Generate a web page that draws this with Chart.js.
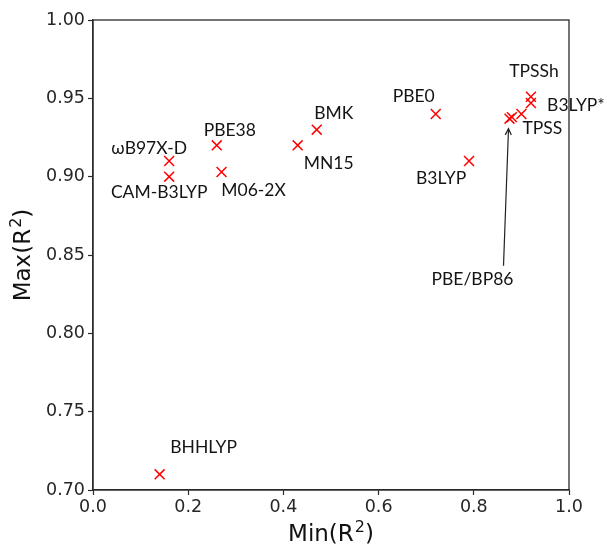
<!DOCTYPE html>
<html>
<head>
<meta charset="utf-8">
<script src="https://cdn.jsdelivr.net/npm/chart.js@4.4.0/dist/chart.umd.min.js"></script>
<style>
  html, body { margin: 0; padding: 0; background: #fff; }
  #wrap { width: 607px; height: 546px; }
</style>
</head>
<body>
<div id="wrap"><canvas id="chart" width="607" height="546"></canvas></div>
<script>
// Functional names and their min/max R^2
const methods = ['ωB97X-D', 'CAM-B3LYP', 'PBE38', 'M06-2X', 'MN15', 'BMK', 'PBE0', 'B3LYP',
                 'PBE', 'BP86', 'TPSS', 'TPSSh', 'B3LYP*', 'BHHLYP'];
const minR2 = [0.16, 0.16, 0.26, 0.27, 0.43, 0.47, 0.72, 0.79, 0.875, 0.88, 0.90, 0.92, 0.92, 0.14];
const maxR2 = [0.91, 0.90, 0.92, 0.903, 0.92, 0.93, 0.94, 0.91, 0.937, 0.938, 0.94, 0.951, 0.947, 0.71];

const xTicks = [0.0, 0.2, 0.4, 0.6, 0.8, 1.0];
const yTicks = [0.70, 0.75, 0.80, 0.85, 0.90, 0.95, 1.00];

// label text offsets from marker (centre of text), in px
const labelOffsets = {
    'ωB97X-D': [-20, -13],
    'CAM-B3LYP': [-10, 16],
    'PBE38': [13, -15],
    'M06-2X': [32, 18],
    'MN15': [31, 18],
    'BMK': [17, -16],
    'PBE0': [-22, -18],
    'B3LYP': [-28, 17],
    'TPSS': [21, 14],
    'TPSSh': [3, -25],
    'B3LYP*': [45, 2],
    'BHHLYP': [44, -27]
};

const points = methods.map((m, i) => ({ x: minR2[i], y: maxR2[i], name: m }));

// axis title like "Min(R^2)" with a raised 2, centred on (0,0)
function drawSupTitle(ctx, base) {
    const big = '23px "DejaVu Sans"', small = '16px "DejaVu Sans"';
    ctx.font = big;
    const w1 = ctx.measureText(base + '(R').width;
    const w3 = ctx.measureText(')').width;
    ctx.font = small;
    const w2 = ctx.measureText('2').width + 1;
    let x = -(w1 + w2 + w3) / 2;
    ctx.textAlign = 'left';
    ctx.textBaseline = 'alphabetic';
    ctx.font = big;
    ctx.fillText(base + '(R', x, 8);
    x += w1;
    ctx.font = small;
    ctx.fillText('2', x + 1, -1);
    x += w2;
    ctx.font = big;
    ctx.fillText(')', x, 8);
}

// Draw frame, point labels, axis titles and the PBE/BP86 arrow
const annotatePlugin = {
    id: 'annotate',
    afterDatasetsDraw(chart) {
        const ctx = chart.ctx;
        const area = chart.chartArea;
        const meta = chart.getDatasetMeta(0);

        ctx.save();
        ctx.strokeStyle = '#2a2a2a';
        ctx.lineWidth = 1.3;
        ctx.strokeRect(area.left, area.top, area.right - area.left, area.bottom - area.top);

        ctx.fillStyle = '#141414';
        ctx.font = '17.5px Lato';
        ctx.textAlign = 'center';
        ctx.textBaseline = 'middle';
        meta.data.forEach((pt, i) => {
            const off = labelOffsets[methods[i]];
            if (!off) return;
            ctx.fillText(methods[i], pt.x + off[0], pt.y + off[1]);
        });

        // PBE/BP86 label with arrow
        const p = meta.data[methods.indexOf('PBE')];
        ctx.fillText('PBE/BP86', p.x - 37, p.y + 161);
        const x0 = p.x - 6, y0 = p.y + 147;
        const x1 = p.x - 1, y1 = p.y + 10;
        ctx.strokeStyle = '#222';
        ctx.lineWidth = 1.2;
        ctx.beginPath();
        ctx.moveTo(x0, y0);
        ctx.lineTo(x1, y1);
        ctx.stroke();
        const ang = Math.atan2(y1 - y0, x1 - x0);
        ctx.beginPath();
        ctx.moveTo(x1 - 7 * Math.cos(ang - 0.45), y1 - 7 * Math.sin(ang - 0.45));
        ctx.lineTo(x1, y1);
        ctx.lineTo(x1 - 7 * Math.cos(ang + 0.45), y1 - 7 * Math.sin(ang + 0.45));
        ctx.stroke();

        // axis titles
        ctx.fillStyle = '#111';
        ctx.save();
        ctx.translate((area.left + area.right) / 2, 533);
        drawSupTitle(ctx, 'Min');
        ctx.restore();
        ctx.save();
        ctx.translate(22, (area.top + area.bottom) / 2);
        ctx.rotate(-Math.PI / 2);
        drawSupTitle(ctx, 'Max');
        ctx.restore();
        ctx.restore();
    }
};

new Chart(document.getElementById('chart'), {
    type: 'scatter',
    data: {
        datasets: [{
            data: points,
            pointStyle: 'crossRot',
            pointRadius: 7,
            pointBorderWidth: 1.5,
            borderColor: '#ff0000',
            backgroundColor: '#ff0000'
        }]
    },
    options: {
        responsive: false,
        animation: false,
        layout: { padding: { top: 20, right: 38, left: 0, bottom: 0 } },
        plugins: {
            legend: { display: false },
            tooltip: { enabled: false }
        },
        scales: {
            x: {
                type: 'linear',
                min: 0, max: 1,
                afterBuildTicks: s => { s.ticks = xTicks.map(v => ({ value: v })); },
                afterFit: s => { s.height = 56; },
                grid: { drawOnChartArea: false, drawTicks: true, tickLength: 5, tickColor: '#2a2a2a', tickWidth: 1.2 },
                border: { display: true, color: '#2a2a2a', width: 1.3 },
                ticks: {
                    color: '#262626',
                    font: { family: 'DejaVu Sans', size: 17.5 },
                    padding: 2,
                    maxRotation: 0,
                    callback: v => v.toFixed(1)
                }
            },
            y: {
                type: 'linear',
                min: 0.7, max: 1.0,
                afterBuildTicks: s => { s.ticks = yTicks.map(v => ({ value: v })); },
                afterFit: s => { s.width = 93; },
                grid: { drawOnChartArea: false, drawTicks: true, tickLength: 5, tickColor: '#2a2a2a', tickWidth: 1.2 },
                border: { display: true, color: '#2a2a2a', width: 1.3 },
                ticks: {
                    color: '#262626',
                    font: { family: 'DejaVu Sans', size: 17.5 },
                    padding: 3,
                    callback: v => v.toFixed(2)
                }
            }
        }
    },
    plugins: [annotatePlugin]
});
</script>
</body>
</html>
